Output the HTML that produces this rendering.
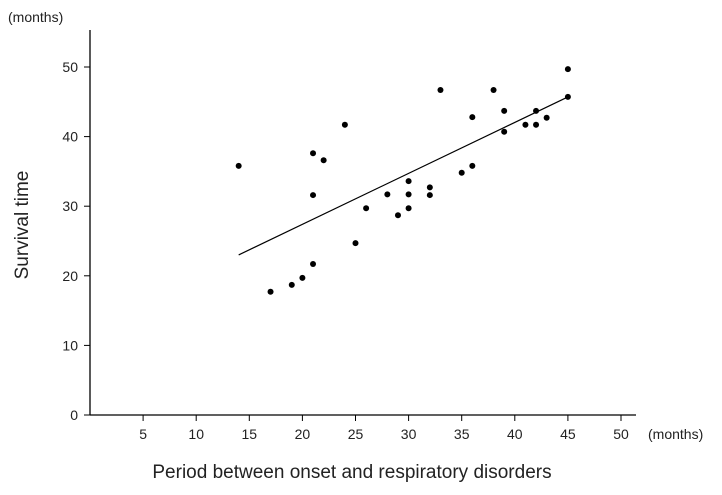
<!DOCTYPE html>
<html><head><meta charset="utf-8"><style>
body{margin:0;background:#fff}
svg{display:block;font-family:"Liberation Sans",sans-serif}
</style></head><body>
<svg width="722" height="495">
<g id="axes"></g><g id="marks"></g>
</svg>
<script>
const xVals=[14,17,19,20,21,21,21,22,24,25,26,28,29,30,30,30,32,32,33,35,36,36,38,39,39,41,42,42,43,45,45];
const yVals=[35.8,17.7,18.7,19.7,21.7,31.6,37.6,36.6,41.7,24.7,29.7,31.7,28.7,29.7,31.7,33.6,31.6,32.7,46.7,34.8,35.8,42.8,46.7,40.7,43.7,41.7,41.7,43.7,42.7,45.7,49.7];
const xTicks=[5,10,15,20,25,30,35,40,45,50];
const yTicks=[0,10,20,30,40,50];
const trendX=[14,45];
const trendY=[23,45.7];
const NS='http://www.w3.org/2000/svg';
const sx=v=>90+v*10.62, sy=v=>415-v*6.96;
const axes=document.getElementById('axes'), marks=document.getElementById('marks');
function mk(tag,attrs,parent,text){const e=document.createElementNS(NS,tag);for(const k in attrs)e.setAttribute(k,attrs[k]);if(text!==undefined)e.textContent=text;parent.appendChild(e);return e;}
let e;
e=mk('line',{x1:90,y1:30,x2:90,y2:415,stroke:'#000','stroke-width':1.3},axes);


e=mk('line',{x1:90,y1:415,x2:636,y2:415,stroke:'#000','stroke-width':1.3},axes);


xTicks.forEach(t=>{
 e=mk('line',{x1:sx(t),y1:415,x2:sx(t),y2:421,stroke:'#000'},axes);
 
 
 e=mk('text',{x:sx(t),y:439,'text-anchor':'middle','font-size':14,fill:'#222'},axes,t);
 
 
});
yTicks.forEach(t=>{
 e=mk('line',{x1:84,y1:sy(t),x2:90,y2:sy(t),stroke:'#000'},axes);
 
 
 e=mk('text',{x:78,y:sy(t)+5,'text-anchor':'end','font-size':14,fill:'#222'},axes,t);
 
 
});
e=mk('text',{x:8,y:22,'font-size':14,fill:'#222'},axes,'(months)');


e=mk('text',{x:648,y:439,'font-size':14,fill:'#222'},axes,'(months)');


e=mk('text',{x:28,y:225,'font-size':19,fill:'#222','text-anchor':'middle',transform:'rotate(-90 28 225)'},axes,'Survival time');


e=mk('text',{x:352,y:478,'font-size':19,fill:'#222','text-anchor':'middle'},axes,'Period between onset and respiratory disorders');


e=mk('line',{x1:sx(trendX[0]),y1:sy(trendY[0]),x2:sx(trendX[1]),y2:sy(trendY[1]),stroke:'#000','stroke-width':1.2},marks);


xVals.forEach((x,i)=>{
 e=mk('circle',{cx:sx(x),cy:sy(yVals[i]),r:3,fill:'#000'},marks);
 
 
});
</script>
</body></html>
